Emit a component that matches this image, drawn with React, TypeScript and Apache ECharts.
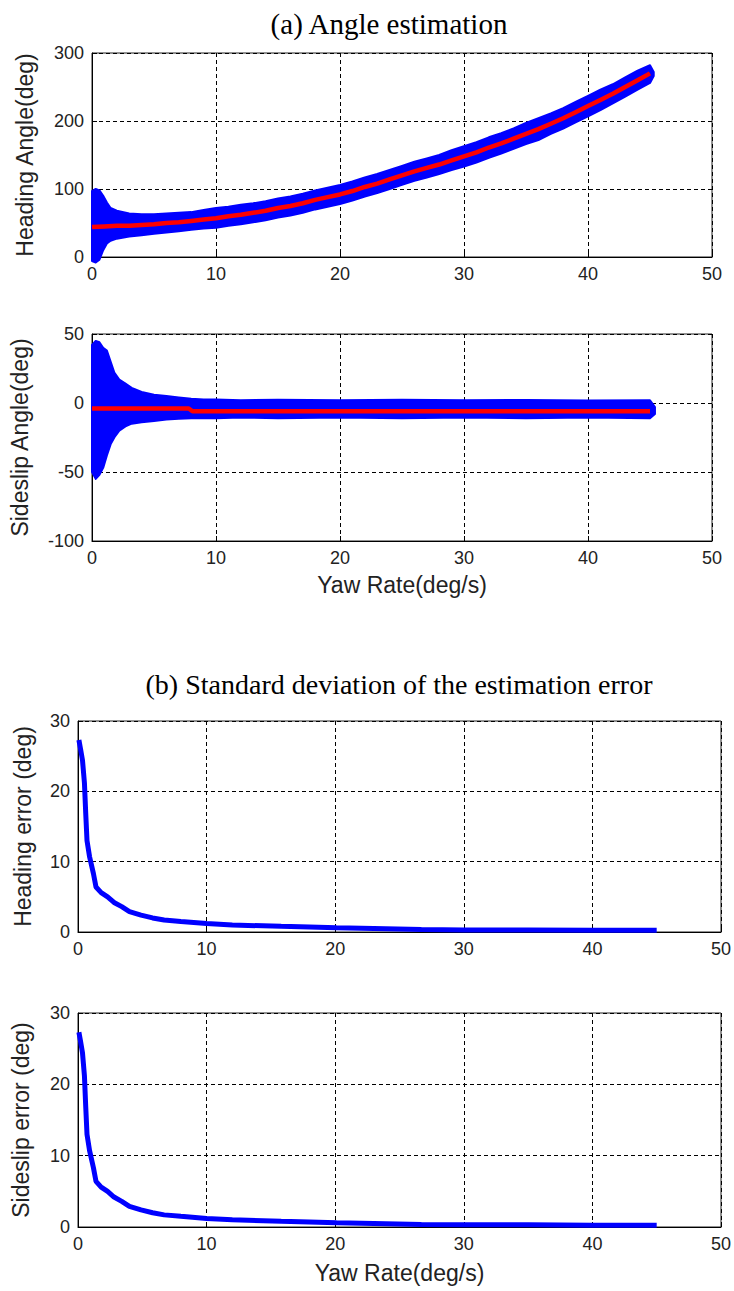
import React, { useEffect, useRef } from "react";
import * as echarts from "echarts";

// ---------- (a) Heading angle ----------
const headX = [0, 0.3, 0.6, 0.9, 1.2, 1.5, 2, 3, 4, 5, 6, 7, 8, 9, 10, 11, 12, 13, 14, 15, 16, 17, 18, 19, 20, 21, 22, 23, 24, 25, 26, 27, 28, 29, 30, 31, 32, 33, 34, 35, 36, 37, 38, 39, 40, 41, 42, 43, 44, 45, 45.3];
const headUpper = [97, 100, 98, 90, 80, 72, 68, 64, 63, 63, 64, 65, 66, 69, 72, 74, 77, 79, 82, 86, 89, 93, 98, 102, 106, 111, 117, 122, 128, 134, 140, 145, 150, 157, 163, 169, 176, 182, 189, 197, 204, 211, 219, 228, 237, 246, 254, 264, 274, 282, 272];
const headLower = [-6, -8, -4, 10, 20, 24, 27, 30, 32, 34, 36, 38, 40, 42, 43, 46, 48, 51, 54, 58, 61, 65, 70, 74, 78, 83, 89, 94, 100, 106, 112, 117, 122, 128, 133, 139, 146, 152, 159, 166, 172, 181, 189, 198, 207, 216, 226, 236, 246, 256, 266];
const headMeanX = [0, 1, 2, 3, 4, 5, 6, 7, 8, 9, 10, 11, 12, 13, 14, 15, 16, 17, 18, 19, 20, 21, 22, 23, 24, 25, 26, 27, 28, 29, 30, 31, 32, 33, 34, 35, 36, 37, 38, 39, 40, 41, 42, 43, 44, 45];
const headMean = [44, 45, 46, 46, 47, 48, 50, 51, 53, 55, 57, 60, 62, 65, 68, 72, 75, 79, 84, 88, 92, 97, 103, 108, 114, 120, 126, 131, 136, 142, 148, 154, 161, 167, 174, 181, 188, 196, 204, 213, 222, 231, 240, 250, 260, 270];

// ---------- (a) Sideslip angle ----------
const slipX = [0, 0.3, 0.6, 0.9, 1.2, 1.5, 1.8, 2.2, 2.7, 3.2, 4, 5, 6, 7, 8, 9, 10, 12, 15, 20, 25, 30, 35, 40, 45, 45.4];
const slipUpper = [42, 45, 44, 40, 38, 30, 22, 17, 14, 11, 8, 6, 5, 4, 3, 2.5, 2.5, 2, 2.3, 2, 2.3, 2, 2.2, 1.8, 2, -3];
const slipLower = [-50, -55, -52, -47, -38, -30, -25, -20, -17, -15, -14, -13, -12, -11.5, -11, -11, -11, -10.5, -11, -10.5, -11, -10.5, -11, -10.5, -11, -8];
const slipMeanX = [0, 7.8, 8.1, 45];
const slipMean = [-4, -4, -6, -6];

// ---------- (b) Standard deviation of the estimation error ----------
const errX = [0.07, 0.2, 0.35, 0.5, 0.6, 0.7, 0.9, 1.2, 1.4, 1.8, 2.3, 2.8, 3.4, 4, 4.9, 5.8, 6.7, 8, 10, 12, 15.8, 18, 20.1, 23, 26.7, 30, 35, 40, 45];
const headErr = [27.3, 26, 24.4, 21.2, 16.9, 13, 10.7, 8.3, 6.4, 5.6, 5, 4.2, 3.6, 2.9, 2.4, 2.0, 1.7, 1.5, 1.2, 1.0, 0.8, 0.7, 0.6, 0.5, 0.35, 0.3, 0.3, 0.25, 0.25];
const slipErr = [27.3, 26, 24.4, 21.2, 16.9, 13, 10.7, 8.3, 6.4, 5.6, 5, 4.2, 3.6, 2.9, 2.4, 2.0, 1.7, 1.5, 1.2, 1.0, 0.8, 0.7, 0.6, 0.5, 0.35, 0.3, 0.3, 0.25, 0.25];

const titleA = "(a) Angle estimation";
const titleB = "(b) Standard deviation of the estimation error";
const xName = "Yaw Rate(deg/s)";
const yNames = ["Heading Angle(deg)", "Sideslip Angle(deg)", "Heading error (deg)", "Sideslip error (deg)"];
const yRanges = [
  [0, 300, 100],
  [-100, 50, 50],
  [0, 30, 10],
  [0, 30, 10],
];

const SANS = "'Liberation Sans', Arial, sans-serif";
const SERIF = "'Liberation Serif', 'Times New Roman', serif";
const TXT = "#222";

const grids = [
  { left: 92, top: 53, width: 620, height: 204 },
  { left: 92, top: 334, width: 620, height: 207 },
  { left: 78, top: 721, width: 644, height: 211 },
  { left: 78, top: 1013, width: 644, height: 214 },
];
const yNameGaps = [56, 61, 44, 46];
const xNameGaps = [0, 32, 0, 34];

function bandSeries(idx: number, xs: number[], lo: number[], hi: number[]) {
  return {
    type: "custom",
    xAxisIndex: idx,
    yAxisIndex: idx,
    clip: false,
    data: xs.map((x, i) => [x, lo[i], hi[i]]),
    renderItem: (params: any, api: any) => {
      if (params.dataIndex !== 0) return null;
      const pts: number[][] = [];
      for (let i = 0; i < xs.length; i++) pts.push(api.coord([xs[i], hi[i]]));
      for (let i = xs.length - 1; i >= 0; i--) pts.push(api.coord([xs[i], lo[i]]));
      return {
        type: "polygon",
        shape: { points: pts },
        style: { fill: "#0000ff", stroke: "#0000ff", lineWidth: 2, lineJoin: "round" },
      };
    },
  };
}

export default function App() {
  const ref = useRef<HTMLDivElement>(null);
  useEffect(() => {
    if (!ref.current) return;
    const chart = echarts.init(ref.current, undefined, { renderer: "svg" });
    const xAxes = grids.map((_, i) => ({
      type: "value",
      gridIndex: i,
      min: 0,
      max: 50,
      interval: 10,
      name: i === 1 || i === 3 ? xName : "",
      nameLocation: "middle",
      nameGap: xNameGaps[i],
      nameTextStyle: { fontFamily: SANS, fontSize: 23, color: TXT },
      axisLine: { onZero: false, lineStyle: { color: "#000", width: 1 } },
      axisTick: { inside: true, length: 5, lineStyle: { color: "#000" } },
      axisLabel: { fontFamily: SANS, fontSize: 18, color: TXT, margin: 8 },
      splitLine: { show: true, lineStyle: { color: "#000", type: [4, 3], width: 1 } },
    }));
    const yAxes = grids.map((_, i) => ({
      type: "value",
      gridIndex: i,
      min: yRanges[i][0],
      max: yRanges[i][1],
      interval: yRanges[i][2],
      name: yNames[i],
      nameLocation: "middle",
      nameGap: yNameGaps[i],
      nameTextStyle: { fontFamily: SANS, fontSize: 23, color: TXT },
      axisLine: { show: true, onZero: false, lineStyle: { color: "#000", width: 1 } },
      axisTick: { show: true, inside: true, length: 5, lineStyle: { color: "#000" } },
      axisLabel: { fontFamily: SANS, fontSize: 18, color: TXT, margin: 8 },
      splitLine: { show: true, lineStyle: { color: "#000", type: [4, 3], width: 1 } },
    }));
    const lineSeries = (idx: number, xs: number[], ys: number[], color: string, w: number) => ({
      type: "line",
      xAxisIndex: idx,
      yAxisIndex: idx,
      data: xs.map((x, i) => [x, ys[i]]),
      showSymbol: false,
      symbol: "none",
      lineStyle: { color, width: w },
      itemStyle: { color },
      z: 3,
    });
    chart.setOption({
      animation: false,
      backgroundColor: "#fff",
      grid: grids.map((g) => ({ ...g, show: true, borderColor: "#222", borderWidth: 1, backgroundColor: "transparent" })),
      xAxis: xAxes,
      yAxis: yAxes,
      graphic: [
        {
          type: "text",
          x: 389,
          y: 24,
          style: { text: titleA, fontFamily: SERIF, fontSize: 29, fill: "#000", textAlign: "center", textVerticalAlign: "middle" },
        },
        {
          type: "text",
          x: 399,
          y: 684,
          style: { text: titleB, fontFamily: SERIF, fontSize: 28, fill: "#000", textAlign: "center", textVerticalAlign: "middle" },
        },
      ],
      series: [
        bandSeries(0, headX, headLower, headUpper),
        lineSeries(0, headMeanX, headMean, "#ff0000", 4.5),
        bandSeries(1, slipX, slipLower, slipUpper),
        lineSeries(1, slipMeanX, slipMean, "#ff0000", 4.5),
        lineSeries(2, errX, headErr, "#0000ff", 5),
        lineSeries(3, errX, slipErr, "#0000ff", 5),
      ],
    });
    return () => chart.dispose();
  }, []);
  return (
    <div
      ref={ref}
      style={{ position: "absolute", left: 0, top: 0, width: 734, height: 1291, background: "#fff" }}
    />
  );
}
